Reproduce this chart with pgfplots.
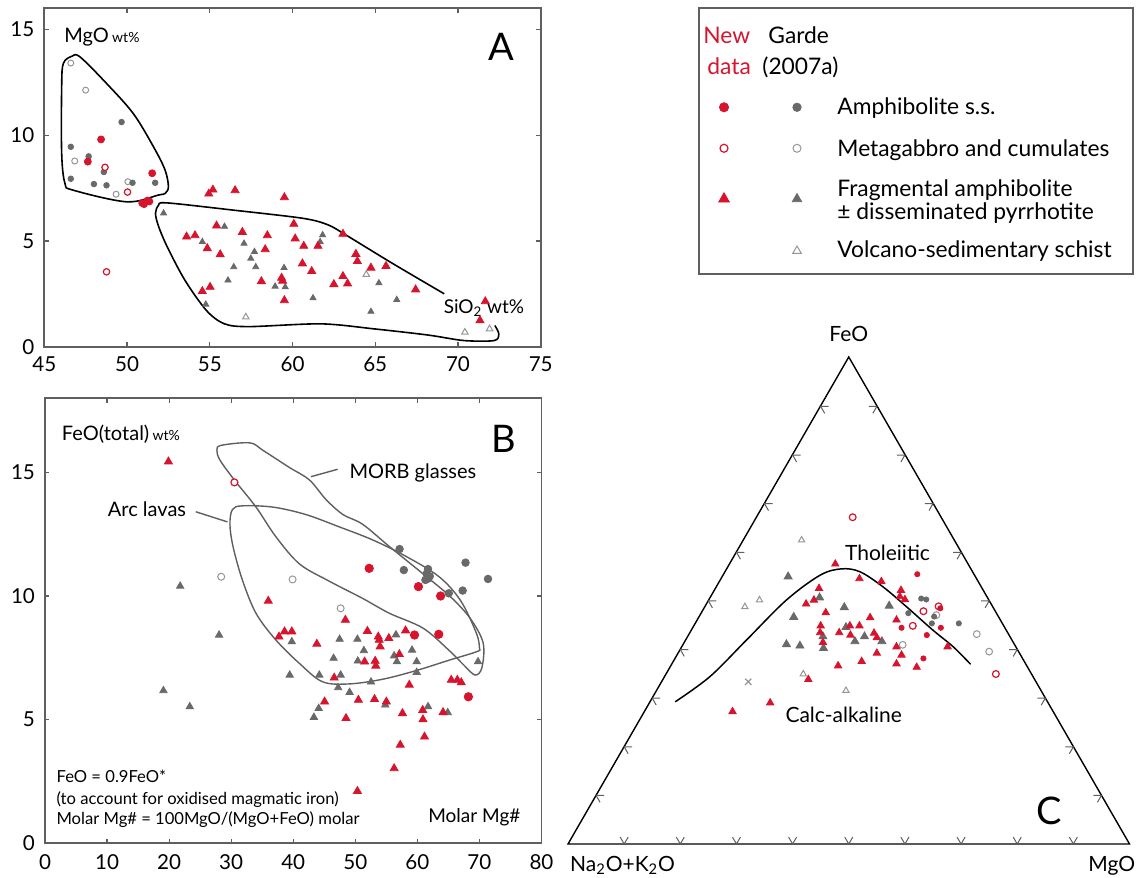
\documentclass[border=0pt]{standalone}
\usepackage{fontspec}
\setmainfont{Lato}
\usepackage{pgfplots}
\pgfplotsset{compat=1.18}
\usetikzlibrary{calc}
\definecolor{myred}{RGB}{215,20,45}
\definecolor{dgrey}{RGB}{105,105,105}
\definecolor{lgrey}{RGB}{150,150,150}
\definecolor{axgrey}{RGB}{95,95,95}
\pgfplotsset{
  panel/.style={scale only axis, anchor=south west, tick align=inside, major tick length=2.2pt,
    axis line style={axgrey, line width=0.9pt}, every tick/.style={axgrey, line width=0.6pt},
    ticklabel style={font=\fontsize{10.3}{12}\selectfont, text=black},
    yticklabel style={xshift=-1.5pt},
    /pgf/number format/assume math mode=true, clip=false},
  rf/.style={only marks, mark=*, mark size=#1, mark options={solid, draw=myred, fill=myred}},
  gf/.style={only marks, mark=*, mark size=#1, mark options={solid, draw=dgrey, fill=dgrey}},
  ro/.style={only marks, mark=*, mark size=#1, mark options={solid, draw=myred, fill=white, line width=0.6pt}},
  go/.style={only marks, mark=*, mark size=#1, mark options={solid, draw=lgrey, fill=white, line width=0.5pt}},
  rt/.style={only marks, mark=triangle*, mark size=#1, mark options={solid, draw=myred, fill=myred}},
  gt/.style={only marks, mark=triangle*, mark size=#1, mark options={solid, draw=dgrey, fill=dgrey}},
  got/.style={only marks, mark=triangle*, mark size=#1, mark options={solid, draw=lgrey, fill=white, line width=0.5pt}},
}
\begin{document}
\begin{tikzpicture}
\path[use as bounding box] (0,0) rectangle (569pt,438.5pt);

% ---------------- Panel A ----------------
\begin{axis}[panel, at={(22.15pt,265.15pt)}, width=248.2pt, height=169.2pt,
  xmin=45, xmax=75, ymin=0, ymax=16, xtick={45,50,...,75}, ytick={0,5,10,15},
  xticklabel style={yshift=-1.5pt}]
\draw[black, line width=0.8pt] plot[smooth cycle, tension=0.55] coordinates {
 (46.05,12.3) (46.15,13.39) (46.66,13.73) (47.16,13.7) (48.77,12.44) (50.38,11.02) (51.6,9.45)
 (52.3,8.35) (52.5,7.56) (52.3,7.25) (51.9,7.17) (49.98,6.85) (46.75,7.4) (46.25,7.72) (46.05,9.13)};
\draw[black, line width=0.8pt] plot[smooth, tension=0.5] coordinates {
 (69.17,2.5) (66.06,3.93) (63.23,5.28) (62.15,5.76) (60.63,6.07) (56.5,6.45) (52.4,6.8) (51.9,6.68)
 (51.72,6.3) (51.9,5.7) (52.43,4.72) (53.5,3.14) (54.8,1.71) (55.89,1.08) (57.4,0.95) (61.72,1.08)
 (64.96,0.84) (68.2,0.55) (70.36,0.29) (72.19,0.29) (72.47,0.6) (72.23,1.0)};
\addplot[go=1.5pt] coordinates {(46.6,13.41) (47.5,12.13) (46.84,8.78) (50.05,7.8) (49.34,7.21)};
\addplot[gf=1.4pt] coordinates {(46.6,9.45) (46.6,7.94) (47.68,9.0) (48.0,7.69) (48.6,8.26) (48.76,7.63)
 (49.67,10.62) (50.33,7.75) (51.7,7.75)};
\addplot[ro=1.6pt] coordinates {(48.67,8.48) (50.03,7.31) (48.76,3.54)};
\addplot[rf=1.75pt] coordinates {(48.43,9.8) (47.63,8.75) (51.52,8.2) (50.92,6.79) (51.24,6.91) (51.03,6.74) (51.35,6.87)};
\addplot[gt=1.75pt] coordinates {(52.21,6.31) (55.89,5.68) (54.55,4.96) (57.07,4.88) (57.7,4.49) (57.48,4.17)
 (57.78,3.77) (56.45,3.77) (56.1,3.14) (59.49,3.73) (59.56,2.82) (58.95,2.85) (54.76,2.0) (61.24,2.3)
 (64.74,1.66) (65.22,3.01) (66.3,2.22) (61.82,5.28) (61.67,4.96)};
\addplot[got=1.9pt] coordinates {(57.18,1.4) (64.46,3.41) (70.42,0.68) (71.91,0.84)};
\addplot[rt=2.3pt] coordinates {(55.19,7.42) (54.94,7.23) (56.53,7.39) (59.51,7.06) (53.6,5.2) (54.11,5.26)
 (55.41,5.72) (56.97,5.42) (58.48,5.26) (60.08,5.80) (60.16,5.11) (60.68,4.76) (61.54,4.76) (63.05,5.33)
 (54.85,4.65) (55.63,4.36) (58.35,4.6) (63.83,4.38) (63.92,4.04) (60.6,3.93) (61.16,3.57) (64.74,3.73)
 (65.65,3.81) (59.34,3.25) (59.4,3.11) (58.12,3.09) (62.5,2.95) (63.05,3.33) (63.33,2.98) (54.55,2.62)
 (55.02,2.82) (59.51,2.19) (67.44,2.7) (71.65,2.14) (71.33,1.24)};
\node[anchor=base west, inner sep=0pt, font=\fontsize{10}{12}\selectfont] at (axis cs:46.19,14.4)
 {MgO\,{\fontsize{7}{8}\selectfont wt\%}};
\node[anchor=base west, inner sep=0pt, font=\fontsize{19}{22}\selectfont] at (axis cs:71.84,13.54) {A};
\node[anchor=base west, inner sep=0pt, font=\fontsize{9.5}{11}\selectfont] at (axis cs:69.12,1.59)
 {SiO\textsubscript{2} wt\%};
\end{axis}

% ---------------- Panel B ----------------
\begin{axis}[panel, at={(22.5pt,17pt)}, width=248.25pt, height=222.3pt,
  xmin=0, xmax=80, ymin=0, ymax=18, xtick={0,10,...,80}, ytick={0,5,10,15},
  xticklabel style={yshift=-2.5pt}]
\draw[axgrey, line width=0.7pt] plot[smooth cycle, tension=0.55] coordinates {
 (27.7,15.9) (28.4,16.1) (33.0,16.2) (35.1,15.9) (39.4,15.2) (42.6,14.7) (45.3,13.9) (48.0,13.3)
 (51.2,12.9) (55.5,12.0) (60.9,10.9) (65.2,10.0) (68.5,9.1) (70.6,8.1) (70.4,7.1) (69.3,6.8)
 (67.5,7.2) (65.1,7.8) (60.9,8.7) (55.5,9.3) (51.2,9.9) (45.8,10.6) (41.0,11.3) (37.2,12.4)
 (34.0,13.6) (30.5,14.7) (28.2,15.5)};
\draw[axgrey, line width=0.7pt] plot[smooth cycle, tension=0.55] coordinates {
 (30.2,13.5) (31.8,13.65) (36.7,13.6) (42.0,13.3) (47.4,12.8) (52.8,12.27) (58.2,11.6) (63.5,10.78)
 (67.0,9.8) (69.5,8.5) (70.0,7.9) (69.6,7.75) (65.1,7.4) (59.8,6.98) (54.4,6.63) (49.0,6.44)
 (44.7,6.53) (41.0,7.27) (37.2,8.22) (34.0,9.3) (31.8,10.65) (30.3,12.0) (29.8,12.9)};
\draw[axgrey, line width=0.7pt] (axis cs:42.85,14.83) -- (axis cs:47.15,15.13);
\draw[axgrey, line width=0.7pt] (axis cs:24.3,13.41) -- (axis cs:29.4,13.0);
\addplot[go=1.75pt] coordinates {(28.39,10.78) (39.89,10.67) (47.64,9.5)};
\addplot[ro=1.75pt] coordinates {(30.52,14.6)};
\addplot[gf=1.9pt] coordinates {(57.13,11.9) (57.82,11.05) (61.72,11.09) (61.7,10.7) (61.3,10.65) (61.5,10.9)
 (62.0,10.8) (67.76,11.35) (67.3,10.22) (65.06,10.11) (71.38,10.69)};
\addplot[rf=2.1pt] coordinates {(52.24,11.12) (60.17,10.38) (63.74,10.0) (59.54,8.42) (63.45,8.45) (68.22,5.92)};
\addplot[gt=2.1pt] coordinates {(21.78,10.4) (28.05,8.42) (19.08,6.17) (23.33,5.52) (39.77,8.15) (39.43,6.8)
 (44.2,6.8) (47.47,8.25) (46.5,7.48) (47.64,6.8) (47.24,6.29) (50.34,8.25) (50.4,7.37) (51.38,7.79)
 (49.08,6.1) (52.53,6.52) (43.33,5.09) (44.1,5.45) (54.83,5.59) (56.55,8.43) (56.26,7.58) (56.7,7.34)
 (59.14,7.81) (59.89,7.34) (59.89,6.91) (61.72,5.52) (64.89,5.28) (69.77,7.34)};
\addplot[rt=2.3pt] coordinates {(19.89,15.44) (35.98,9.8) (37.7,8.35) (38.6,8.56) (39.77,8.56) (43.8,8.06)
 (48.4,9.03) (51.95,8.58) (53.7,8.35) (53.85,8.22) (54.0,7.95) (55.4,8.29) (58.1,8.6) (57.1,7.64)
 (53.2,7.37) (51.5,7.34) (53.3,7.17) (46.6,6.69) (58.7,6.4) (45.05,5.72) (50.5,5.79) (53.1,5.82)
 (55.0,5.72) (48.5,5.05) (57.6,5.25) (60.86,5.38) (60.9,5.0) (61.15,4.3) (64.14,5.29) (65.46,6.6)
 (66.44,6.6) (67.07,6.5) (57.24,3.97) (56.26,3.02) (50.34,2.1)};
\node[anchor=base west, inner sep=0pt, font=\fontsize{10}{12}\selectfont] at (axis cs:2.66,16.3)
 {FeO(total)\,{\fontsize{7}{8}\selectfont wt\%}};
\node[anchor=base west, inner sep=0pt, font=\fontsize{19}{22}\selectfont] at (axis cs:71.8,15.8) {B};
\node[anchor=west, inner sep=0pt, font=\fontsize{10}{12}\selectfont] at (axis cs:49.0,15.0) {MORB glasses};
\node[anchor=east, inner sep=0pt, font=\fontsize{10}{12}\selectfont] at (axis cs:22.8,13.5) {Arc lavas};
\node[anchor=base west, inner sep=0pt, font=\fontsize{8.3}{9}\selectfont] at (axis cs:1.8,2.43) {FeO = 0.9FeO*};
\node[anchor=base west, inner sep=0pt, font=\fontsize{8.3}{9}\selectfont] at (axis cs:1.8,1.54) {(to account for oxidised magmatic iron)};
\node[anchor=base west, inner sep=0pt, font=\fontsize{8.3}{9}\selectfont] at (axis cs:1.8,0.73) {Molar Mg\# = 100MgO/(MgO+FeO) molar};
\node[anchor=base west, inner sep=0pt, font=\fontsize{9.5}{11}\selectfont] at (axis cs:61.7,0.81) {Molar Mg\#};
\end{axis}

% ---------------- Panel C (ternary, triangle frame coordinates) ----------------
\begin{axis}[scale only axis, anchor=south west, at={(284pt,16.5pt)}, width=280.75pt, height=243.5pt,
  xmin=0, xmax=100, ymin=0, ymax=100, axis lines=none, clip=false]
\draw[black, line width=0.7pt, line join=miter] (axis cs:0,0) -- (axis cs:100,0) -- (axis cs:50,100) -- cycle;
\addplot[black, line width=0.75pt, smooth, tension=0.55, no marks] coordinates {
 (19.1,29.2) (25.3,34.4) (31.8,41.9) (38.9,50.1) (44.9,55.2) (48.7,56.5) (52.0,55.9) (56.1,52.8)
 (60.3,48.7) (65.0,43.9) (68.6,40.5) (71.7,36.9)};
\addplot[got=1.8pt] coordinates {(41.6,62.4) (34.1,50.1) (31.5,48.7) (41.9,34.9) (49.5,31.5)};
\addplot[only marks, mark=x, mark size=2.2pt, mark options={draw=lgrey, line width=0.6pt}] coordinates {(32.1,33.3)};
\addplot[go=1.7pt] coordinates {(65.6,47.0) (72.8,43.1) (75.0,39.5) (59.6,40.9)};
\addplot[ro=1.7pt] coordinates {(50.7,67.1) (63.3,47.8) (61.4,44.8) (66.0,48.8) (76.2,34.9)};
\addplot[gf=1.3pt] coordinates {(62.9,50.4) (63.8,50.2) (64.8,45.3) (65.2,46.7) (69.6,45.3) (60.6,47.4)};
\addplot[rf=1.3pt] coordinates {(62.2,55.4) (66.3,48.4) (66.4,44.4) (63.9,42.9) (59.4,44.4) (63.3,38.1)};
\addplot[gt=2.3pt] coordinates {(39.2,54.9) (44.8,50.6) (57.2,48.9) (49.2,48.6) (40.2,46.6) (49.5,44.5)
 (45.4,42.6) (52.8,42.6) (51.1,41.6) (55.9,41.6) (38.9,41.0) (41.3,40.7) (45.5,40.2)};
\addplot[rt=2.1pt] coordinates {(47.6,57.5) (51.9,54.5) (55.8,53.9) (59.3,52.1) (59.1,50.8) (60.0,50.2)
 (44.7,52.5) (43.8,50.1) (42.4,49.3) (45.9,47.5) (53.8,46.5) (58.5,46.0) (45.0,44.8) (44.9,43.4)
 (45.4,41.4) (48.3,43.4) (50.2,44.8) (51.9,44.8) (50.3,42.9) (54.5,43.3) (55.0,42.4) (55.0,39.2)
 (58.5,40.5) (59.4,38.8) (67.6,40.5) (48.1,36.6) (52.3,37.5) (58.5,37.0) (62.1,36.3) (42.8,33.8)
 (36.0,29.0) (29.3,27.2)};
\node[font=\fontsize{10.5}{12}\selectfont] at (axis cs:50,104.7) {FeO};
\node[font=\fontsize{10.5}{12}\selectfont] at (axis cs:56.9,59.8) {Tholeiitic};
\node[font=\fontsize{10.5}{12}\selectfont] at (axis cs:49.1,26.5) {Calc-alkaline};
\node[font=\fontsize{19}{22}\selectfont] at (axis cs:85.7,6.8) {C};
\node[anchor=west, inner sep=0pt, font=\fontsize{10.5}{12}\selectfont] at (axis cs:0.3,-4.4) {Na\textsubscript{2}O+K\textsubscript{2}O};
\node[anchor=west, inner sep=0pt, font=\fontsize{10.5}{12}\selectfont] at (axis cs:92.6,-4.4) {MgO};
\end{axis}
\coordinate (L) at (284pt,16.5pt);
\coordinate (R) at (564.75pt,16.5pt);
\coordinate (T) at (424.375pt,259.6pt);
\foreach \t in {0.1,0.2,0.3,0.4,0.5,0.6,0.7,0.8,0.9} {
  \draw[axgrey, line width=0.5pt] ($(L)!\t!(R)$) ++(120:4pt) -- ++(-60:4pt) -- ++(60:4pt);
  \draw[axgrey, line width=0.5pt] ($(L)!\t!(T)$) ++(0:4pt) -- ++(180:4pt) -- ++(-60:4pt);
  \draw[axgrey, line width=0.5pt] ($(R)!\t!(T)$) ++(180:4pt) -- ++(0:4pt) -- ++(240:4pt);
}

% ---------------- Legend ----------------
\begin{axis}[scale only axis, anchor=south west, at={(349.5pt,301.5pt)}, width=217pt, height=132.85pt,
  xmin=699, xmax=1133, ymin=-274, ymax=-8.3, xtick=\empty, ytick=\empty,
  axis line style={axgrey, line width=0.8pt}, clip=false]
\addplot[rf=2.3pt] coordinates {(724,-107.3)};
\addplot[gf=2.1pt] coordinates {(797,-107.3)};
\addplot[ro=2pt] coordinates {(724,-148.3)};
\addplot[go=2pt] coordinates {(797,-148.3)};
\addplot[rt=3.1pt] coordinates {(724,-199)};
\addplot[gt=2.7pt] coordinates {(797,-199)};
\addplot[got=2.5pt] coordinates {(797,-251)};
\node[anchor=base west, inner sep=0pt, text=myred, font=\fontsize{11.4}{13}\selectfont] at (axis cs:703,-43.3) {New};
\node[anchor=base west, inner sep=0pt, text=myred, font=\fontsize{11.4}{13}\selectfont] at (axis cs:707,-75) {data};
\node[anchor=base west, inner sep=0pt, font=\fontsize{11.4}{13}\selectfont] at (axis cs:768,-43.3) {Garde};
\node[anchor=base west, inner sep=0pt, font=\fontsize{11.4}{13}\selectfont] at (axis cs:762,-75) {(2007a)};
\node[anchor=base west, inner sep=0pt, font=\fontsize{11.4}{13}\selectfont] at (axis cs:837,-115) {Amphibolite s.s.};
\node[anchor=base west, inner sep=0pt, font=\fontsize{11.4}{13}\selectfont] at (axis cs:837,-156.7) {Metagabbro and cumulates};
\node[anchor=base west, inner sep=0pt, font=\fontsize{11.4}{13}\selectfont] at (axis cs:837,-196.7) {Fragmental amphibolite};
\node[anchor=base west, inner sep=0pt, font=\fontsize{11.4}{13}\selectfont] at (axis cs:837,-220) {± disseminated pyrrhotite};
\node[anchor=base west, inner sep=0pt, font=\fontsize{11.4}{13}\selectfont] at (axis cs:837,-258) {Volcano-sedimentary schist};
\end{axis}
\end{tikzpicture}
\end{document}
